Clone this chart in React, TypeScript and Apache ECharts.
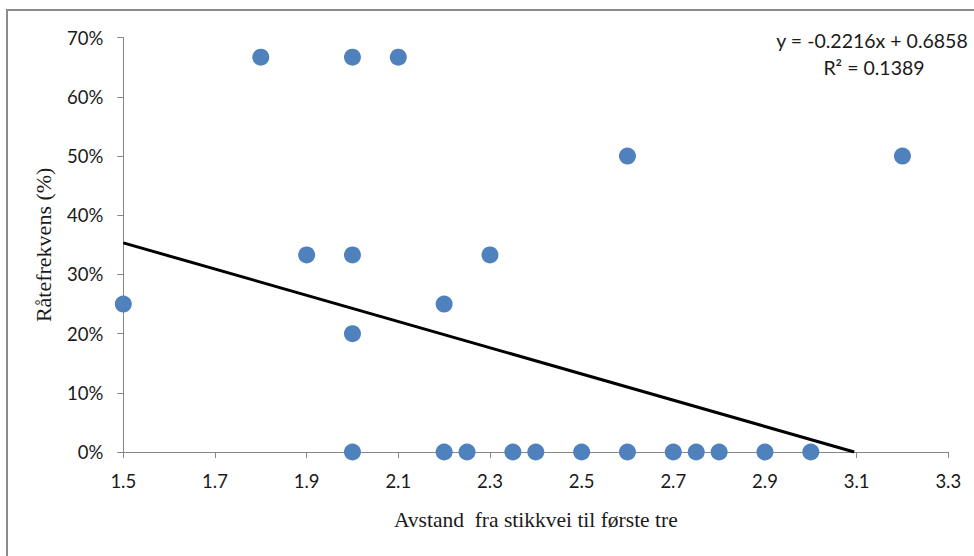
import React, { useEffect, useRef } from "react";
import * as echarts from "echarts";

const distances = [1.5, 1.8, 2.0, 2.1, 1.9, 2.0, 2.0, 2.0, 2.2, 2.3, 2.2, 2.25, 2.35, 2.4, 2.5, 2.6, 2.6, 2.7, 2.75, 2.8, 2.9, 3.0, 3.2];
const rotRates = [0.25, 0.667, 0.667, 0.667, 0.333, 0.333, 0.2, 0, 0.25, 0.333, 0, 0, 0, 0, 0, 0, 0.5, 0, 0, 0, 0, 0, 0.5];
const slope = -0.2216;
const intercept = 0.6858;
const rSquared = 0.1389;
const xTicks = [1.5, 1.7, 1.9, 2.1, 2.3, 2.5, 2.7, 2.9, 3.1, 3.3];
const yTicks = [0, 0.1, 0.2, 0.3, 0.4, 0.5, 0.6, 0.7];

export default function App() {
  const ref = useRef<HTMLDivElement>(null);
  useEffect(() => {
    if (!ref.current) return;
    const chart = echarts.init(ref.current, null, { renderer: "svg" });
    const xStart = Math.min(...distances);
    const xEnd = -intercept / slope;
    const trend = [
      [xStart, slope * xStart + intercept],
      [xEnd, slope * xEnd + intercept],
    ];
    const labelFont = "Lato, 'Open Sans', sans-serif";
    chart.setOption({
      animation: false,
      backgroundColor: "#ffffff",
      grid: { left: 123.3, right: 25.7, top: 37.7, bottom: 104, containLabel: false },
      xAxis: {
        type: "value",
        min: xTicks[0],
        max: xTicks[xTicks.length - 1],
        interval: 0.2,
        splitLine: { show: false },
        axisLine: { show: true, lineStyle: { color: "#868686", width: 1 } },
        axisTick: { show: true, length: 6, lineStyle: { color: "#868686" } },
        axisLabel: {
          margin: 19,
          color: "#1a1a1a",
          fontSize: 18.5,
          fontFamily: labelFont,
          formatter: (v: number) => v.toFixed(1),
        },
        name: "Avstand  fra stikkvei til første tre",
        nameLocation: "middle",
        nameGap: 57,
        nameTextStyle: { fontFamily: "'Liberation Serif', serif", fontSize: 21.5, color: "#1a1a1a" },
      },
      yAxis: {
        type: "value",
        min: yTicks[0],
        max: yTicks[yTicks.length - 1],
        interval: 0.1,
        splitLine: { show: false },
        axisLine: { show: true, lineStyle: { color: "#868686", width: 1 } },
        axisTick: { show: true, length: 6, lineStyle: { color: "#868686" } },
        axisLabel: {
          margin: 20,
          color: "#1a1a1a",
          fontSize: 18.5,
          fontFamily: labelFont,
          formatter: (v: number) => Math.round(v * 100) + "%",
        },
        name: "Råtefrekvens (%)",
        nameLocation: "middle",
        nameGap: 69,
        nameTextStyle: { fontFamily: "'Liberation Serif', serif", fontSize: 22, color: "#1a1a1a" },
      },
      series: [
        {
          type: "scatter",
          data: distances.map((d, i) => [d, rotRates[i]]),
          symbol: "circle",
          symbolSize: 17,
          itemStyle: { color: "#4F81BD", opacity: 1 },
          z: 2,
        },
        {
          type: "line",
          data: trend,
          showSymbol: false,
          symbol: "none",
          lineStyle: { color: "#000000", width: 3 },
          z: 3,
        },
      ],
      graphic: [
        {
          type: "rect",
          shape: { x: 7, y: 10, width: 1000, height: 600 },
          style: { fill: "none", stroke: "#8c8c8c", lineWidth: 2 },
          silent: true,
        },
        {
          type: "text",
          x: 872,
          y: 40,
          style: {
            text: "y = -" + Math.abs(slope).toFixed(4) + "x + " + intercept.toFixed(4),
            fontFamily: labelFont,
            fontSize: 19.5,
            fill: "#1a1a1a",
            align: "center",
            verticalAlign: "middle",
          },
        },
        {
          type: "text",
          x: 874,
          y: 67,
          style: {
            text: "R² = " + rSquared.toFixed(4),
            fontFamily: labelFont,
            fontSize: 19.5,
            fill: "#1a1a1a",
            align: "center",
            verticalAlign: "middle",
          },
        },
      ],
    });
    return () => chart.dispose();
  }, []);
  return (
    <div
      ref={ref}
      style={{ position: "absolute", left: 0, top: 0, width: 974, height: 556 }}
    />
  );
}
